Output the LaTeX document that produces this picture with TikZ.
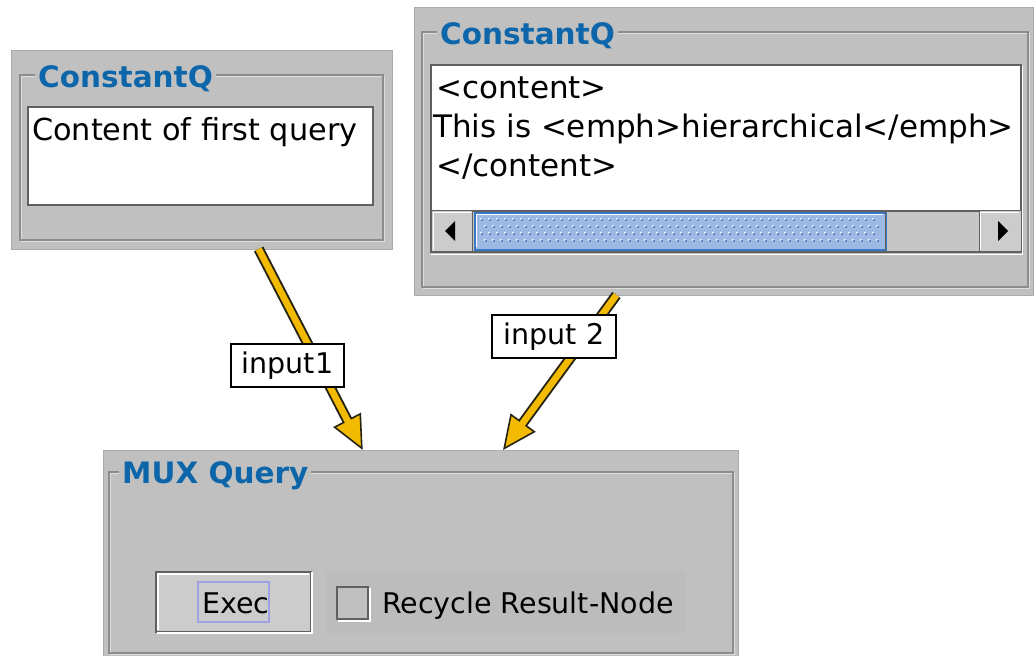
\documentclass[tikz,border=0pt]{standalone}
\usepackage{fontspec}
\setmainfont{DejaVu Sans}
\usetikzlibrary{arrows.meta,calc}

\definecolor{panelgray}{RGB}{192,192,192}
\definecolor{paneledge}{RGB}{172,172,172}
\definecolor{etchdark}{RGB}{140,140,140}
\definecolor{etchlightc}{RGB}{222,222,222}
\definecolor{titleblue}{RGB}{14,102,170}
\definecolor{flowyellow}{RGB}{242,186,0}
\definecolor{flowedge}{RGB}{40,36,20}
\definecolor{thumbblue}{RGB}{158,186,228}
\definecolor{thumbedge}{RGB}{52,120,196}
\definecolor{thumbdot}{RGB}{62,112,196}
\definecolor{btnface}{RGB}{204,204,204}
\definecolor{trackgray}{RGB}{198,198,198}
\definecolor{focusline}{RGB}{160,160,228}
\definecolor{btnedge}{RGB}{96,96,96}
\definecolor{checkarea}{RGB}{188,188,188}

\newcommand\qtitlefont{\bfseries\fontsize{29.5}{34}\selectfont}
\newcommand\qbodyfont{\fontsize{28.5}{34}\selectfont}
\newcommand\qfieldfont{\fontsize{30.3}{36}\selectfont}
\newcommand\qxmlfont{\fontsize{31}{37}\selectfont}

\tikzset{
  panel/.style={draw=paneledge, fill=panelgray, line width=1pt,
    inner sep=0pt, outer sep=0pt, anchor=north west},
  etch/.style={draw=etchdark, line width=1.3pt},
  etchlight/.style={draw=etchlightc, line width=1pt},
  qtitle/.style={fill=panelgray, text=titleblue, font=\qtitlefont,
    inner xsep=3pt, inner ysep=1pt, anchor=base west},
  field/.style={draw=btnedge, fill=white, line width=1.5pt,
    inner sep=0pt, outer sep=0pt, anchor=north west},
  txt/.style={inner sep=0pt, anchor=base west},
  lbl/.style={draw=black, fill=white, line width=2pt, inner sep=0pt,
    font=\qbodyfont},
  button/.style={draw=btnedge, fill=btnface, line width=1.5pt,
    inner sep=0pt, outer sep=0pt, anchor=north west},
  flow/.style={draw=flowedge, line width=10.5pt,
    -{Triangle[length=34pt, width=31pt, line width=1.6pt, fill=flowyellow]},
    postaction={draw=flowyellow, line width=6.6pt, arrows=-, shorten >=30pt}},
}

\begin{document}
\begin{tikzpicture}[x=1pt, y=-1pt]
\useasboundingbox (0,0) rectangle (1034,656);

% ---------- first ConstantQ panel ----------
\node[panel, minimum width=381, minimum height=199] (qA) at (11,50) {};
\draw[etchlight] (21,76) rectangle (384,241);
\draw[etch] (20,75) rectangle (383,240);
\node[qtitle] (tA) at (35,87) {ConstantQ};
\node[field, minimum width=345, minimum height=98] (fA) at (28,107) {};
\node[txt, font=\qfieldfont] (cA) at (32,140) {Content of first query};

% ---------- second ConstantQ panel ----------
\node[panel, minimum width=619, minimum height=288] (qB) at (414,7) {};
\draw[etchlight] (423,33) rectangle (1029,288);
\draw[etch] (422,32) rectangle (1028,287);
\node[qtitle] (tB) at (437,44) {ConstantQ};
\node[field, minimum width=590, minimum height=187] (fB) at (431,65) {};
\node[txt, font=\qxmlfont] (xA) at (436,98) {<content>};
\node[txt, font=\qxmlfont] (xB) at (433,137) {This is <emph>hierarchical</emph>};
\node[txt, font=\qxmlfont] (xC) at (436,176) {</content>};

% horizontal scroll bar
\fill[trackgray] (432,211) rectangle (1020,251);
\draw[btnedge, line width=1.2pt] (431,211) -- (1021,211);
\node[button, minimum width=40, minimum height=40, fill=btnface, draw=none] (sL) at (432,211) {};
\draw[white, line width=1pt] (433,250) -- (433,212) -- (471,212);
\draw[btnedge, line width=1pt] (472,211) -- (472,251);
\fill[black] (445,231) -- (455,221) -- (455,241) -- cycle;
\node[button, minimum width=42, minimum height=40, fill=btnface, draw=none] (sR) at (979,211) {};
\draw[btnedge, line width=1pt] (979,211) -- (979,251);
\draw[white, line width=1pt] (980,250) -- (980,212) -- (1019,212);
\fill[black] (1008,231) -- (998,221) -- (998,241) -- cycle;
\node[draw=thumbedge, fill=thumbblue, line width=2pt, inner sep=0pt,
      minimum width=411, minimum height=37, anchor=north west] (thumb) at (474,212) {};
\draw[white, line width=1pt] (476,247) -- (476,214) -- (883,214);
\draw[btnedge, line width=1pt] (885,212) -- (885,251);
\foreach \r in {0,1,2,3} {
  \pgfmathsetmacro{\yy}{220+7*\r}
  \pgfmathsetmacro{\xo}{mod(\r,2)*4}
  \foreach \c in {0,...,49} {
    \pgfmathsetmacro{\xx}{482+\xo+8*\c}
    \fill[white] (\xx-1,\yy-1) circle (1.1pt);
    \fill[thumbdot] (\xx,\yy) circle (1.2pt);
  }
}
\draw[btnedge, line width=1.5pt] (431,252) -- (1021,252);
\draw[white, line width=1pt] (431,254) -- (1022,254) -- (1022,66);

% ---------- MUX Query panel ----------
\node[panel, minimum width=635, minimum height=212] (mux) at (103,450) {};
\draw[etchlight] (110,473) rectangle (734,654);
\draw[etch] (109,472) rectangle (733,653);
\node[qtitle] (tM) at (119,483) {MUX Query};

\node[button, minimum width=155, minimum height=60] (exec) at (156,572) {};
\draw[white, line width=1.2pt] (158,630) -- (158,574) -- (309,574);
\draw[white, line width=1.2pt] (157,633) -- (312,633) -- (312,572);
\draw[focusline, line width=1.2pt] (198,582) rectangle (269,622);
\node[txt, font=\qbodyfont] (execT) at (202,613) {Exec};

\fill[checkarea] (326,572) rectangle (686,633);
\node[button, minimum width=31, minimum height=32, fill=panelgray] (chk) at (337,587) {};
\draw[white, line width=1.2pt] (338,621) -- (370,621) -- (370,588);
\node[txt, font=\qbodyfont] (chkT) at (382,613) {Recycle Result-Node};

% ---------- connectors ----------
\draw[flow] ($(qA.south west)!0.65!(qA.south east)$)
         -- ($(mux.north west)!0.409!(mux.north east)$);
\draw[flow] ($(qB.south west)!0.327!(qB.south east)$)
         -- ($(mux.north west)!0.63!(mux.north east)$);
\node[lbl, minimum width=113, minimum height=43] (lab1) at (287.5,365.5) {input1};
\node[lbl, minimum width=124, minimum height=43] (lab2) at (554,336.5) {input 2};
\end{tikzpicture}
\end{document}
